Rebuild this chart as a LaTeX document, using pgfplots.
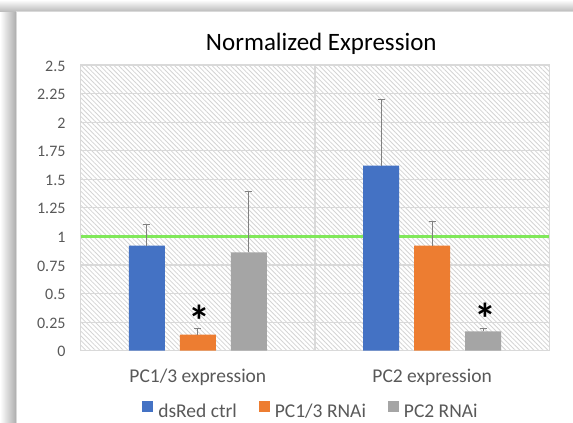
\documentclass[border=0pt]{standalone}
\usepackage{pgfplots}
\pgfplotsset{compat=1.18}
\usepackage{fontspec}
\setmainfont{Carlito}
\usetikzlibrary{patterns.meta}
\definecolor{cblue}{RGB}{68,114,196}
\definecolor{corange}{RGB}{237,125,49}
\definecolor{cgray}{RGB}{165,165,165}
\definecolor{gridc}{RGB}{217,217,217}
\definecolor{hatchc}{RGB}{212,212,212}
\definecolor{txtc}{RGB}{89,89,89}
\definecolor{errc}{RGB}{128,128,128}
\definecolor{lgreen}{RGB}{128,232,90}
\begin{document}
\begin{tikzpicture}
\useasboundingbox (-80.7pt,-72.3pt) rectangle (492.3pt,350.7pt);
\shade[left color=white, right color=black!32] (-80.7pt,-72.3pt) rectangle (-64.7pt,350.7pt);
\shade[top color=white, bottom color=black!28] (-80.7pt,338.7pt) rectangle (492.3pt,350.7pt);
\filldraw[fill=white, draw=gridc, line width=1pt] (-63.7pt,-73pt) rectangle (493pt,338.7pt);
\begin{axis}[
  at={(0,0)}, anchor=south west,
  scale only axis, width=468.6pt, height=285.7pt,
  xmin=-0.5, xmax=1.5, ymin=0, ymax=2.5,
  xtick={0,1}, xticklabels={PC1/3 expression, PC2 expression},
  ytick={0,0.25,0.5,0.75,1,1.25,1.5,1.75,2,2.25,2.5},
  yticklabels={0,0.25,0.5,0.75,1,1.25,1.5,1.75,2,2.25,2.5},
  /pgf/number format/assume math mode=true,
  major tick length=0pt,
  ymajorgrids, major grid style={gridc, line width=1.2pt},
  extra x ticks={0.5}, extra x tick labels={},
  extra x tick style={grid=major, major grid style={gridc, line width=1.2pt}},
  axis line style={gridc, line width=1.2pt},
  axis background/.style={pattern={Lines[angle=-45, distance=3.3pt, line width=0.8pt]}, pattern color=hatchc},
  tick label style={font=\fontsize{16}{19}\selectfont, text=txtc},
  yticklabel style={inner sep=0pt, anchor=east, xshift=-15pt, yshift=-1pt},
  xticklabel style={font=\fontsize{19.5}{23}\selectfont, inner sep=0pt, anchor=base, yshift=-31.3pt},
  legend columns=3,
  legend image code/.code={\fill[#1] (0pt,0pt) rectangle (11pt,11pt);},
  legend style={draw=none, fill=none, inner sep=0pt, outer sep=0pt,
    font=\fontsize{19.5}{23}\selectfont, text=txtc,
    nodes={inner sep=0pt, text height=11pt, text depth=0pt},
    column sep=5pt,
    /tikz/every even column/.append style={column sep=22pt},
    at={(axis description cs:0.1315,-0.1761)}, anchor=north west},
  error bars/y dir=plus, error bars/y explicit,
  error bars/error bar style={errc, line width=1pt},
  error bars/error mark options={errc, rotate=90, mark size=3.4pt, line width=1pt},
]
\addplot[lgreen, line width=3pt, forget plot] coordinates {(-0.5,1) (1.5,1)};
\addplot[ybar, bar width=36pt, bar shift=0pt, fill=cblue, draw=none]
  coordinates {(-0.2177,0.92) +- (0,0.18) (0.7823,1.62) +- (0,0.58)};
\addlegendentry{dsRed ctrl}
\addplot[ybar, bar width=36pt, bar shift=0pt, fill=corange, draw=none]
  coordinates {(0,0.14) +- (0,0.05) (1,0.92) +- (0,0.21)};
\addlegendentry{PC1/3 RNAi}
\addplot[ybar, bar width=36pt, bar shift=0pt, fill=cgray, draw=none]
  coordinates {(0.2177,0.86) +- (0,0.53) (1.2177,0.17) +- (0,0.02)};
\addlegendentry{PC2 RNAi}
\node[anchor=base, inner sep=0pt, font=\fontsize{44}{46}\selectfont\bfseries, xshift=2pt] at (axis cs:0,0.121) {*};
\node[anchor=base, inner sep=0pt, font=\fontsize{44}{46}\selectfont\bfseries, xshift=2.5pt] at (axis cs:1.2177,0.139) {*};
\end{axis}
\node[anchor=base, inner sep=0pt, font=\fontsize{25}{30}\selectfont] at (240.6pt,300pt) {Normalized Expression};
\end{tikzpicture}
\end{document}
